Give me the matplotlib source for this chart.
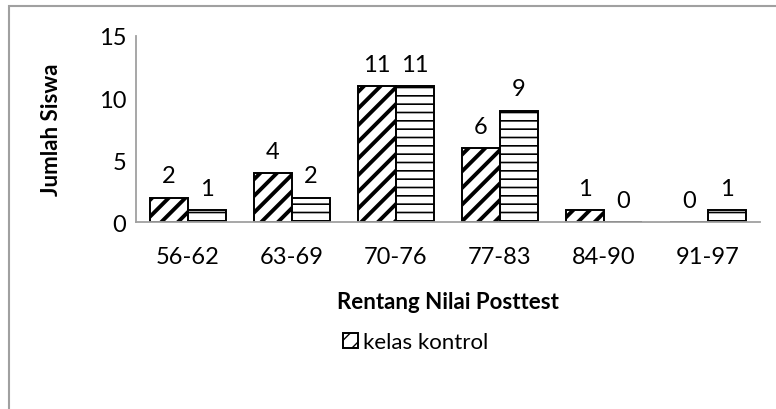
import numpy as np
import matplotlib
matplotlib.use("Agg")
import matplotlib.pyplot as plt
from matplotlib.patches import Rectangle

plt.rcParams['font.family'] = ['Lato', 'DejaVu Sans']

# nilai posttest per rentang
rentang = ['56-62', '63-69', '70-76', '77-83', '84-90', '91-97']
kontrol = [2, 4, 11, 6, 1, 0]
eksperimen = [1, 2, 11, 9, 0, 1]

fs = 16
fs_angka = 17

fig = plt.figure(figsize=(7.76, 4.10), dpi=100)
ax = fig.add_axes([0.175, 0.455, 0.804, 0.455])

x = np.arange(len(rentang))
w = 0.365

b1 = ax.bar(x - w / 2, kontrol, w, color='white', edgecolor='black',
            linewidth=1.4, hatch='//', label='kelas kontrol')
b2 = ax.bar(x + w / 2, eksperimen, w, color='white', edgecolor='black',
            linewidth=1.4, hatch='--')
for p in b1:
    p.set_hatch_linewidth(2.8)
for p in b2:
    p.set_hatch_linewidth(1.2)

ax.bar_label(b1, padding=8, fontsize=fs_angka)
ax.bar_label(b2, padding=8, fontsize=fs_angka)

ax.set_xlim(-0.5, len(rentang) - 0.5)
ax.set_ylim(0, 15)
ax.set_yticks([0, 5, 10, 15])
ax.set_xticks(x)
ax.set_xticklabels(rentang)
ax.tick_params(length=0, labelsize=fs_angka)
ax.tick_params(axis='y', pad=7)
ax.tick_params(axis='x', pad=17)
for s in ['top', 'right']:
    ax.spines[s].set_visible(False)
for s in ['left', 'bottom']:
    ax.spines[s].set_color('#a0a0a0')
    ax.spines[s].set_linewidth(1.3)

ax.set_ylabel('Jumlah Siswa', fontsize=fs, fontweight='bold', labelpad=26)
ax.set_xlabel('Rentang Nilai Posttest', fontsize=fs, fontweight='bold',
              labelpad=17)

leg = fig.legend(handles=[b1], loc='center', bbox_to_anchor=(0.535, 0.163),
                 frameon=False, fontsize=fs, handlelength=0.7, handleheight=0.7,
                 handletextpad=0.2)

# garis tepi area grafik
fig.patches.append(Rectangle((0.012, -0.1), 1.2, 1.084, transform=fig.transFigure,
                             fill=False, edgecolor='#a0a0a0', linewidth=1.5))

fig.savefig('out.png', dpi=100)
